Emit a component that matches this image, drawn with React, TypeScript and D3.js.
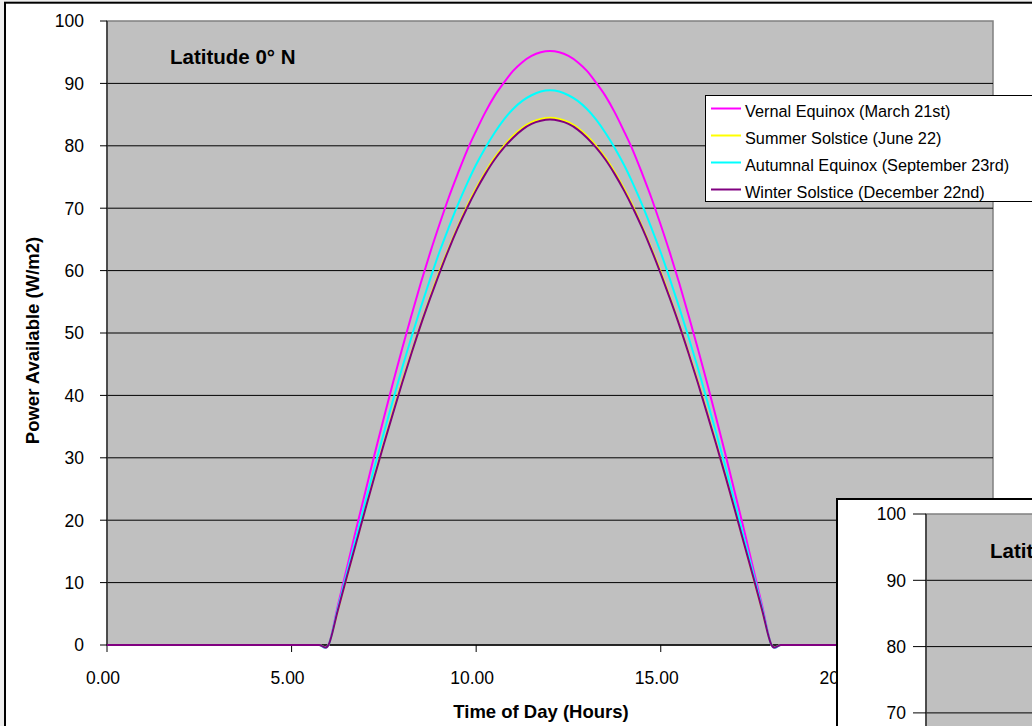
import React from "react";
import * as d3 from "d3";

// Sampling times (hours), quarter-hour steps through the day
const HOURS = [
  0, 0.25, 0.5, 0.75, 1, 1.25, 1.5, 1.75, 2, 2.25, 2.5, 2.75, 3, 3.25, 3.5, 3.75,
  4, 4.25, 4.5, 4.75, 5, 5.25, 5.5, 5.75, 6, 6.25, 6.5, 6.75, 7, 7.25, 7.5, 7.75,
  8, 8.25, 8.5, 8.75, 9, 9.25, 9.5, 9.75, 10, 10.25, 10.5, 10.75, 11, 11.25, 11.5, 11.75,
  12, 12.25, 12.5, 12.75, 13, 13.25, 13.5, 13.75, 14, 14.25, 14.5, 14.75, 15, 15.25, 15.5, 15.75,
  16, 16.25, 16.5, 16.75, 17, 17.25, 17.5, 17.75, 18, 18.25, 18.5, 18.75, 19, 19.25, 19.5, 19.75,
  20, 20.25, 20.5, 20.75, 21, 21.25, 21.5, 21.75, 22, 22.25, 22.5, 22.75, 23, 23.25, 23.5, 23.75, 24,
];

// Power available (W/m2) at each sampling time
const VERNAL = [
  0, 0, 0, 0, 0, 0, 0, 0, 0, 0, 0, 0, 0, 0, 0, 0, 0, 0, 0, 0, 0, 0, 0, 0, 0,
  6.2, 12.4, 18.6, 24.6, 30.6, 36.4, 42.1, 47.6, 52.9, 58.0, 62.8, 67.3, 71.6, 75.5, 79.2, 82.4,
  85.4, 88.0, 90.1, 92.0, 93.4, 94.4, 95.0, 95.2, 95.0, 94.4, 93.4, 92.0, 90.1, 88.0, 85.4,
  82.4, 79.2, 75.5, 71.6, 67.3, 62.8, 58.0, 52.9, 47.6, 42.1, 36.4, 30.6, 24.6, 18.6, 12.4, 6.2,
  0, 0, 0, 0, 0, 0, 0, 0, 0, 0, 0, 0, 0, 0, 0, 0, 0, 0, 0, 0, 0, 0, 0, 0, 0,
];
const SUMMER = [
  0, 0, 0, 0, 0, 0, 0, 0, 0, 0, 0, 0, 0, 0, 0, 0, 0, 0, 0, 0, 0, 0, 0, 0, 0,
  5.5, 11.0, 16.5, 21.9, 27.2, 32.3, 37.4, 42.3, 46.9, 51.4, 55.7, 59.8, 63.5, 67.0, 70.3, 73.2,
  75.8, 78.1, 80.0, 81.6, 82.9, 83.8, 84.3, 84.5, 84.3, 83.8, 82.9, 81.6, 80.0, 78.1, 75.8,
  73.2, 70.3, 67.0, 63.5, 59.8, 55.7, 51.4, 46.9, 42.3, 37.4, 32.3, 27.2, 21.9, 16.5, 11.0, 5.5,
  0, 0, 0, 0, 0, 0, 0, 0, 0, 0, 0, 0, 0, 0, 0, 0, 0, 0, 0, 0, 0, 0, 0, 0, 0,
];
const AUTUMNAL = [
  0, 0, 0, 0, 0, 0, 0, 0, 0, 0, 0, 0, 0, 0, 0, 0, 0, 0, 0, 0, 0, 0, 0, 0, 0,
  5.8, 11.6, 17.3, 23.0, 28.6, 34.0, 39.3, 44.5, 49.4, 54.1, 58.6, 62.9, 66.8, 70.5, 73.9, 77.0,
  79.7, 82.1, 84.2, 85.9, 87.2, 88.1, 88.7, 88.9, 88.7, 88.1, 87.2, 85.9, 84.2, 82.1, 79.7,
  77.0, 73.9, 70.5, 66.8, 62.9, 58.6, 54.1, 49.4, 44.5, 39.3, 34.0, 28.6, 23.0, 17.3, 11.6, 5.8,
  0, 0, 0, 0, 0, 0, 0, 0, 0, 0, 0, 0, 0, 0, 0, 0, 0, 0, 0, 0, 0, 0, 0, 0, 0,
];
const WINTER = [
  0, 0, 0, 0, 0, 0, 0, 0, 0, 0, 0, 0, 0, 0, 0, 0, 0, 0, 0, 0, 0, 0, 0, 0, 0,
  5.5, 11.0, 16.4, 21.8, 27.1, 32.2, 37.2, 42.1, 46.8, 51.3, 55.5, 59.5, 63.3, 66.8, 70.0, 72.9,
  75.5, 77.8, 79.7, 81.3, 82.6, 83.5, 84.0, 84.2, 84.0, 83.5, 82.6, 81.3, 79.7, 77.8, 75.5,
  72.9, 70.0, 66.8, 63.3, 59.5, 55.5, 51.3, 46.8, 42.1, 37.2, 32.2, 27.1, 21.8, 16.4, 11.0, 5.5,
  0, 0, 0, 0, 0, 0, 0, 0, 0, 0, 0, 0, 0, 0, 0, 0, 0, 0, 0, 0, 0, 0, 0, 0, 0,
];

const SERIES_NAMES = [
  "Vernal Equinox (March 21st)",
  "Summer Solstice (June 22)",
  "Autumnal Equinox (September 23rd)",
  "Winter Solstice (December 22nd)",
];
const SERIES_COLORS = ["#FF00FF", "#FFFF00", "#00FFFF", "#800080"];
const SERIES_VALUES = [VERNAL, SUMMER, AUTUMNAL, WINTER];

const Y_TICKS = [0, 10, 20, 30, 40, 50, 60, 70, 80, 90, 100];
const X_TICKS = [0, 5, 10, 15, 20];
const Y_GRID = [10, 20, 30, 40, 50, 60, 70, 80, 90];

const FONT = "'Liberation Sans', Arial, Helvetica, sans-serif";
const VIEW_H = 726;

export default function App() {
  // Main chart scales
  const x = d3.scaleLinear().domain([0, 24]).range([107, 993]);
  const y = d3.scaleLinear().domain([0, 100]).range([645, 21]);

  const line = d3
    .line<number>()
    .x((_, i) => x(HOURS[i]))
    .y((d) => y(d))
    .curve(d3.curveCardinal.tension(0));

  // Second chart stacked in the lower right corner
  const y2 = d3.scaleLinear().domain([0, 100]).range([1177, 514]);
  const y2Visible = Y_TICKS.filter((v) => y2(v) < VIEW_H - 8);

  return (
    <svg
      width={1032}
      height={VIEW_H}
      style={{ position: "absolute", left: 0, top: 0, display: "block" }}
      fontFamily={FONT}
    >
      <rect x={0} y={0} width={1032} height={VIEW_H} fill="#efefef" />
      {/* main chart frame */}
      <rect x={5} y={2.7} width={1200} height={900} fill="#ffffff" stroke="#000" strokeWidth={2} />

      {/* plot area */}
      <rect
        x={x(0)}
        y={y(100)}
        width={x(24) - x(0)}
        height={y(0) - y(100)}
        fill="#C0C0C0"
        stroke="#808080"
        strokeWidth={1.5}
      />
      {Y_GRID.map((v) => (
        <line key={v} x1={x(0)} x2={x(24)} y1={y(v)} y2={y(v)} stroke="#000" strokeWidth={1} />
      ))}
      {/* axes */}
      <line x1={x(0)} x2={x(0)} y1={y(100)} y2={y(0)} stroke="#333" strokeWidth={1.5} />
      <line x1={x(0)} x2={x(24)} y1={y(0)} y2={y(0)} stroke="#000" strokeWidth={1.5} />
      {Y_TICKS.map((v) => (
        <g key={v}>
          <line x1={x(0) - 7} x2={x(0)} y1={y(v)} y2={y(v)} stroke="#000" strokeWidth={1} />
          <text x={84} y={y(v)} dy="0.36em" textAnchor="end" fontSize={17.5} fill="#000">
            {v}
          </text>
        </g>
      ))}
      {X_TICKS.map((v) => (
        <g key={v}>
          <line x1={x(v)} x2={x(v)} y1={y(0)} y2={y(0) + 7} stroke="#000" strokeWidth={1} />
          <text x={x(v) - 4} y={684} textAnchor="middle" fontSize={17.5} fill="#000">
            {d3.format(".2f")(v)}
          </text>
        </g>
      ))}

      {/* series */}
      {SERIES_VALUES.map((vals, i) => (
        <path
          key={SERIES_NAMES[i]}
          d={line(vals) || ""}
          fill="none"
          stroke={SERIES_COLORS[i]}
          strokeWidth={2}
          strokeLinejoin="round"
        />
      ))}

      {/* titles */}
      <text x={170} y={64} fontSize={20.5} fontWeight="bold" fill="#000">
        Latitude 0° N
      </text>
      <text x={541} y={718} textAnchor="middle" fontSize={18.5} fontWeight="bold" fill="#000">
        Time of Day (Hours)
      </text>
      <text
        transform="translate(39,340.5) rotate(-90)"
        textAnchor="middle"
        fontSize={18.5}
        fontWeight="bold"
        fill="#000"
      >
        Power Available (W/m2)
      </text>

      {/* legend */}
      <rect x={705.5} y={95.5} width={340} height={106} fill="#ffffff" stroke="#000" strokeWidth={1} />
      {SERIES_NAMES.map((name, i) => (
        <g key={name}>
          <line
            x1={711}
            x2={741}
            y1={108.5 + i * 27}
            y2={108.5 + i * 27}
            stroke={SERIES_COLORS[i]}
            strokeWidth={2}
          />
          <text x={745} y={108.5 + i * 27 + 8} fontSize={16.3} fill="#000">
            {name}
          </text>
        </g>
      ))}

      {/* second chart */}
      <rect x={837} y={499} width={400} height={400} fill="#ffffff" stroke="#000" strokeWidth={2} />
      <rect x={926} y={y2(100)} width={400} height={700} fill="#C0C0C0" stroke="#808080" strokeWidth={1.5} />
      {Y_TICKS.filter((v) => v > 0 && v < 100).map((v) => (
        <line key={v} x1={926} x2={1040} y1={y2(v)} y2={y2(v)} stroke="#000" strokeWidth={1} />
      ))}
      <line x1={926} x2={926} y1={y2(100)} y2={y2(0)} stroke="#333" strokeWidth={1.5} />
      {Y_TICKS.map((v) => (
        <line key={v} x1={913} x2={926} y1={y2(v)} y2={y2(v)} stroke="#000" strokeWidth={1} />
      ))}
      {y2Visible.map((v) => (
        <text key={v} x={906} y={y2(v)} dy="0.36em" textAnchor="end" fontSize={17.5} fill="#000">
          {v}
        </text>
      ))}
      <text x={990} y={558} fontSize={20.5} fontWeight="bold" fill="#000">
        Latitude 30° N
      </text>
    </svg>
  );
}
